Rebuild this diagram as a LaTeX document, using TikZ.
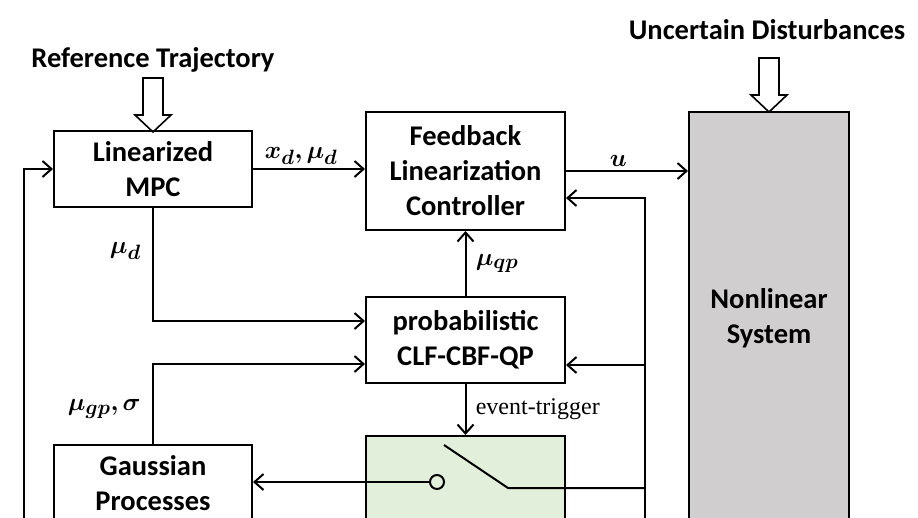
\documentclass[tikz,border=0pt]{standalone}
\usepackage{fontspec}
\usepackage{amsmath,bm}
\newfontfamily\boxfont{Carlito}
\newfontfamily\notefont{Liberation Serif}
\usetikzlibrary{arrows.meta, positioning, calc}
\definecolor{plantfill}{HTML}{D0CECE}
\definecolor{trigfill}{HTML}{E2EFDA}

\begin{document}
\begin{tikzpicture}[x=1pt, y=-1pt,
  block/.style={draw, line width=2pt, inner sep=0pt, align=center,
    font=\boxfont\bfseries\fontsize{28.5}{35}\selectfont},
  heading/.style={font=\boxfont\bfseries\fontsize{28.5}{32}\selectfont},
  hollowarrow/.pic={
    \draw[line width=1.6pt, fill=white] (-10,0) -- (10,0) -- (10,37) -- (18,37)
      -- (0,54) -- (-18,37) -- (-10,37) -- cycle;},
  conn/.style={line width=2pt, -{Straight Barb[length=9pt,width=16pt]}},
  wire/.style={line width=2pt},
  sig/.style={font=\fontsize{28}{30}\selectfont},
  note/.style={font=\notefont\fontsize{24}{28}\selectfont}
]
  \useasboundingbox (0,0) rectangle (918,517);
  \clip (0,0) rectangle (918,517);

  % inputs from outside
  \node[heading] (reftxt)  at (153,60) {Reference Trajectory};
  \pic at (153,78) {hollowarrow};
  \node[heading] (disttxt) at (767,30) {Uncertain Disturbances};
  \pic at (769,58) {hollowarrow};

  % blocks
  \node[block, minimum width=198pt, minimum height=76pt]  (mpc) at (153,169) {Linearized\\MPC};
  \node[block, minimum width=199pt, minimum height=118pt] (flc) at (465.5,171) {Feedback\\Linearization\\Controller};
  \node[block, minimum width=199pt, minimum height=86pt]  (qp)  at (465.5,340) {probabilistic\\CLF-CBF-QP};
  \node[block, minimum width=198pt, minimum height=76pt]  (gp)  at (153,483) {Gaussian\\Processes};
  \node[block, fill=trigfill, minimum width=199pt, minimum height=110pt] (et) at (465.5,491) {};
  \node[block, fill=plantfill, minimum width=160pt, minimum height=412pt] (nls) at (769,318) {Nonlinear\\System};

  % switch
  \node[circle, draw, line width=2pt, fill=trigfill, minimum size=14pt, inner sep=0pt] (sw) at (437,482) {};
  \coordinate (bladetop) at (444,445);
  \coordinate (bladeend) at (508,488);

  % state feedback bus
  \coordinate (bus)     at (645,198);
  \coordinate (busend)  at (645,530);
  \coordinate (qpin)    at (645,365);
  \coordinate (fbstart) at (24,530);

  \draw[conn] (mpc.east) -- (mpc.east -| flc.west) node[pos=0.43, above, sig] {$\bm{x_d,\mu_d}$};
  \draw[conn] (flc.east) -- (flc.east -| nls.west) node[pos=0.43, above, sig] {$\bm{u}$};
  \draw[conn] (busend) -- (bus) -- (bus -| flc.east);
  \draw[conn] (qpin) -- (qpin -| qp.east);
  \draw[wire] (bladetop) -- (bladeend) -- (bladeend -| bus);
  \draw[conn] (mpc.south) |- ($(qp.west)+(0,-19)$) node[pos=0.19, left=8pt, sig] {$\bm{\mu_d}$};
  \draw[conn] (gp.north) |- ($(qp.west)+(0,24)$) node[pos=0.22, left=8pt, sig] {$\bm{\mu_{gp},\sigma}$};
  \draw[conn] (qp.north) -- (flc.south) node[midway, right=6pt, sig] {$\bm{\mu_{qp}}$};
  \draw[conn] (qp.south) -- (et.north) node[midway, right=6pt, note] {event-trigger};
  \draw[conn] (sw.west) -- (sw.west -| gp.east);
  \draw[conn] (fbstart) |- (mpc.west);
\end{tikzpicture}
\end{document}
